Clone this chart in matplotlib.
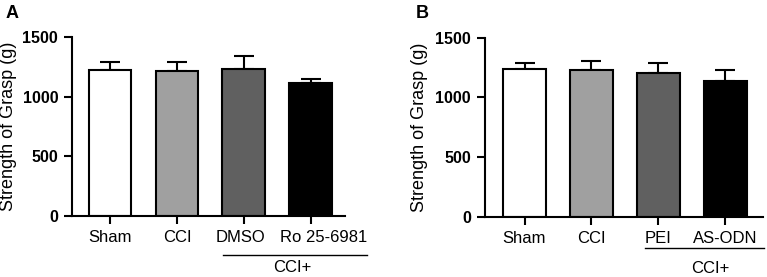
import matplotlib
matplotlib.use("Agg")
import matplotlib.pyplot as plt
import matplotlib.transforms as mtransforms

plt.rcParams['font.family'] = ['Liberation Sans', 'DejaVu Sans']

groups_a = ["Sham", "CCI", "DMSO", "Ro 25-6981"]
means_a = [1223, 1215, 1234, 1115]
errs_a = [70, 75, 107, 35]

groups_b = ["Sham", "CCI", "PEI", "AS-ODN"]
means_b = [1235, 1227, 1207, 1135]
errs_b = [53, 75, 81, 94]

bar_colors = ["white", "#a0a0a0", "#606060", "black"]


def draw_panel(ax, groups, means, errs, xlim, ylab_x):
    x = list(range(len(groups)))
    ax.bar(x, means, width=0.64, color=bar_colors, edgecolor="black", linewidth=1.5, zorder=2)
    ax.errorbar(x, means, yerr=[[0] * len(errs), errs], fmt="none", ecolor="black",
                elinewidth=1.5, capsize=7, capthick=1.5, zorder=1)
    ax.set_xlim(*xlim)
    ax.set_ylim(0, 1500)
    ax.set_yticks([0, 500, 1000, 1500])
    ax.set_xticks(x)
    ax.set_xticklabels(groups, fontsize=12)
    for lab in ax.get_yticklabels():
        lab.set_fontweight("bold")
        lab.set_fontsize(11.5)
    ax.set_ylabel("Strength of Grasp (g)", fontsize=13)
    ax.yaxis.set_label_coords(ylab_x, 0.5)
    ax.spines["top"].set_visible(False)
    ax.spines["right"].set_visible(False)
    ax.spines["left"].set_linewidth(1.5)
    ax.spines["bottom"].set_linewidth(1.5)
    ax.tick_params(width=1.5, length=6, pad=4)


fig = plt.figure(figsize=(7.67, 2.77), dpi=100)
ax1 = fig.add_axes([0.0939, 0.2202, 0.3559, 0.6462])
ax2 = fig.add_axes([0.6323, 0.2177, 0.3625, 0.6462])

draw_panel(ax1, groups_a, means_a, errs_a, (-0.567, 3.51), -0.20)
draw_panel(ax2, groups_b, means_b, errs_b, (-0.59, 3.56), -0.205)

# nudge the long label right, as in the original
shift = mtransforms.ScaledTranslation(0.13, 0, fig.dpi_scale_trans)
lab = ax1.get_xticklabels()[3]
lab.set_transform(lab.get_transform() + shift)
shift2 = mtransforms.ScaledTranslation(-0.03, 0, fig.dpi_scale_trans)
lab = ax1.get_xticklabels()[2]
lab.set_transform(lab.get_transform() + shift2)

# CCI+ group bracket
t1 = ax1.get_xaxis_transform()
ax1.plot([1.69, 3.84], [-0.218, -0.218], color="black", lw=1, transform=t1, clip_on=False)
ax1.text(2.73, -0.29, "CCI+", transform=t1, ha="center", va="center", fontsize=12)

t2 = ax2.get_xaxis_transform()
ax2.plot([1.80, 3.58], [-0.175, -0.175], color="black", lw=1, transform=t2, clip_on=False)
ax2.text(2.77, -0.29, "CCI+", transform=t2, ha="center", va="center", fontsize=12)

fig.text(12 / 767, 1 - 13 / 277, "A", fontsize=13, fontweight="bold", ha="center", va="center")
fig.text(422 / 767, 1 - 13 / 277, "B", fontsize=13, fontweight="bold", ha="center", va="center")

fig.savefig("out.png", dpi=100)
